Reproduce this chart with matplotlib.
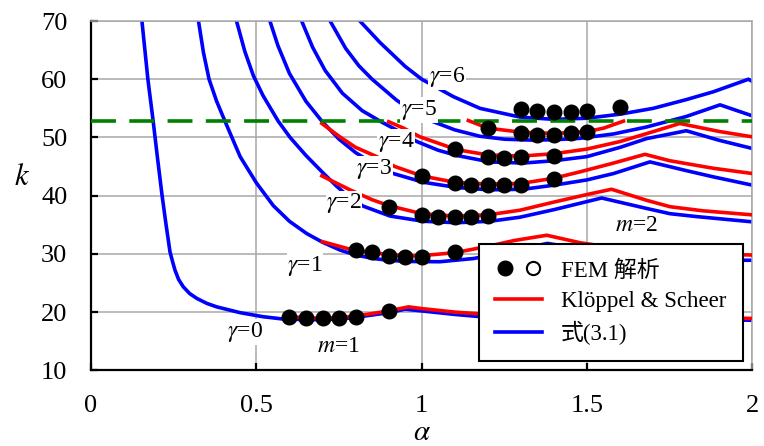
import matplotlib
matplotlib.use('Agg')
import matplotlib.pyplot as plt
from matplotlib.lines import Line2D
from matplotlib.legend_handler import HandlerTuple

plt.rcParams['font.family'] = ['Liberation Serif', 'Noto Sans CJK JP']
plt.rcParams['mathtext.fontset'] = 'stix'

# --- eq.(3.1) curves (blue) ---
a_g0 = [0.154, 0.172, 0.188, 0.201, 0.215, 0.227, 0.239, 0.247, 0.254, 0.265, 0.279, 0.298, 0.320, 0.350, 0.380, 0.451, 0.521, 0.582, 0.65, 0.70, 0.75, 0.80, 0.85, 0.90, 0.95, 1.0, 1.1, 1.2, 1.4, 1.65, 1.8, 2.0]
k_g0 = [70, 60, 52.8, 46.5, 40.0, 35.0, 30.3, 28.6, 27.2, 25.6, 24.35, 23.2, 22.35, 21.5, 20.9, 19.9, 19.2, 18.8, 18.7, 18.7, 18.8, 19.1, 19.5, 19.9, 20.5, 20.2, 19.6, 19.1, 18.7, 19.2, 18.8, 18.6]
a_g1 = [0.325, 0.34, 0.357, 0.38, 0.405, 0.451, 0.50, 0.551, 0.60, 0.652, 0.70, 0.753, 0.80, 0.854, 0.90, 0.955, 1.055, 1.156, 1.25, 1.38, 1.5, 1.6, 1.7, 1.8, 2.0]
k_g1 = [70, 64.6, 60, 56.2, 52.8, 46.7, 42.2, 38.3, 35.6, 33.5, 32.0, 30.65, 29.8, 29.2, 28.9, 28.7, 28.65, 29.2, 30.2, 31.8, 30.7, 29.9, 29.3, 28.95, 28.9]
a_g2 = [0.44, 0.465, 0.491, 0.52, 0.566, 0.602, 0.65, 0.70, 0.743, 0.78, 0.823, 0.904, 1.005, 1.106, 1.206, 1.297, 1.4, 1.544, 1.68, 1.751, 1.832, 2.0]
k_g2 = [70, 64.8, 60.6, 57.2, 52.8, 50.0, 46.9, 44.0, 41.6, 39.8, 38.2, 36.5, 35.6, 35.35, 35.6, 36.3, 37.6, 39.6, 37.8, 36.9, 36.4, 35.5]
a_g3 = [0.541, 0.565, 0.60, 0.65, 0.698, 0.75, 0.80, 0.86, 0.914, 1.005, 1.106, 1.206, 1.307, 1.4, 1.499, 1.58, 1.69, 1.8, 1.88, 2.0]
k_g3 = [70, 65.8, 61.0, 56.2, 52.8, 49.7, 47.4, 45.3, 43.8, 42.3, 41.4, 41.0, 41.1, 41.8, 42.7, 43.8, 45.8, 44.3, 43.25, 41.8]
a_g4 = [0.637, 0.67, 0.708, 0.76, 0.82, 0.88, 0.94, 0.985, 1.05, 1.106, 1.206, 1.307, 1.4, 1.499, 1.6, 1.68, 1.80, 1.9, 2.0]
k_g4 = [70, 65.5, 61.5, 57.6, 54.6, 52.6, 50.8, 49.3, 47.8, 46.9, 45.8, 45.6, 46.0, 46.7, 48.3, 49.8, 51.15, 49.5, 48.1]
a_g5 = [0.723, 0.77, 0.81, 0.85, 0.924, 0.99, 1.035, 1.1, 1.176, 1.25, 1.327, 1.4, 1.479, 1.58, 1.68, 1.80, 1.902, 2.0]
k_g5 = [70, 65.3, 62.3, 60, 56.4, 53.85, 52.7, 51.3, 50.2, 49.7, 49.55, 49.6, 49.85, 50.6, 51.8, 53.6, 55.6, 53.7]
a_g6 = [0.813, 0.874, 0.95, 1.0, 1.096, 1.176, 1.297, 1.4, 1.499, 1.6, 1.70, 1.80, 1.882, 1.988, 2.0]
k_g6 = [70, 66.3, 62.2, 60, 57.0, 55.0, 53.5, 53.1, 53.3, 54.0, 55.0, 56.5, 57.85, 60.0, 59.6]

# --- Kloppel & Scheer (red) ---
a_ks0 = [0.6, 0.7, 0.8, 0.9, 0.96, 1.0, 1.1, 1.2, 1.65, 2.0]
k_ks0 = [19.2, 18.9, 19.3, 20.2, 20.9, 20.6, 20.0, 19.6, 19.5, 18.9]
a_ks1 = [0.7, 0.783, 0.85, 0.9, 0.95, 1.0, 1.1, 1.2, 1.28, 1.378, 1.48, 1.6, 1.8, 2.0]
k_ks1 = [32.1, 30.8, 30.2, 29.9, 29.7, 29.7, 30.2, 31.3, 32.3, 33.2, 31.9, 30.9, 30.1, 29.8]
a_ks2 = [0.698, 0.783, 0.85, 0.9, 1.0, 1.1, 1.2, 1.297, 1.4, 1.5, 1.574, 1.68, 1.751, 1.85, 2.0]
k_ks2 = [43.4, 41.0, 39.3, 38.3, 36.9, 36.5, 36.7, 37.5, 38.9, 40.2, 41.1, 39.2, 38.1, 37.4, 36.7]
a_ks3 = [0.698, 0.75, 0.80, 0.864, 0.919, 1.0, 1.1, 1.2, 1.3, 1.4, 1.479, 1.58, 1.675, 1.75, 1.882, 2.0]
k_ks3 = [52.4, 50.2, 48.3, 46.7, 45.0, 43.4, 42.3, 42.0, 42.1, 43.0, 44.1, 45.6, 47.1, 46.0, 44.7, 43.8]
a_ks4 = [0.9, 0.945, 0.995, 1.106, 1.2, 1.3, 1.4, 1.499, 1.6, 1.7, 1.78, 1.902, 2.0]
k_ks4 = [52.7, 51.6, 50.1, 47.9, 47.0, 46.8, 47.2, 48.0, 49.3, 51.0, 52.4, 51.0, 50.1]
a_ks5 = [1.141, 1.2, 1.3, 1.4, 1.5, 1.55, 1.61]
k_ks5 = [52.9, 51.6, 50.9, 50.7, 51.0, 51.6, 52.8]

# --- FEM results ---
fem_a0 = [0.6, 0.65, 0.7, 0.75, 0.8, 0.9]
fem_k0 = [19.2, 18.9, 18.9, 19.0, 19.2, 20.2]
fem_a1 = [0.8, 0.85, 0.9, 0.95, 1.0, 1.1]
fem_k1 = [30.65, 30.26, 29.67, 29.5, 29.5, 30.26]
fem_a2 = [0.9, 1.0, 1.05, 1.1, 1.15, 1.2]
fem_k2 = [38.1, 36.7, 36.4, 36.4, 36.4, 36.5]
fem_a3 = [1.0, 1.1, 1.15, 1.2, 1.25, 1.3, 1.4]
fem_k3 = [43.3, 42.2, 41.9, 41.9, 41.9, 41.9, 42.8]
fem_a4 = [1.1, 1.2, 1.25, 1.3, 1.4]
fem_k4 = [47.95, 46.6, 46.4, 46.6, 46.8]
fem_a5 = [1.2, 1.3, 1.35, 1.4, 1.45, 1.5]
fem_k5 = [51.56, 50.7, 50.5, 50.5, 50.7, 50.9]
fem_a6 = [1.3, 1.35, 1.4, 1.45, 1.5, 1.6]
fem_k6 = [54.8, 54.6, 54.4, 54.4, 54.6, 55.3]

k_limit = 52.8

# curve labels: text, alpha, k
curve_labels = [
    (r'$\gamma$=0', 0.466, 16.6), (r'$\gamma$=1', 0.647, 27.9), (r'$\gamma$=2', 0.765, 38.7),
    (r'$\gamma$=3', 0.856, 44.6), (r'$\gamma$=4', 0.922, 49.3), (r'$\gamma$=5', 0.992, 54.7),
    (r'$\gamma$=6', 1.077, 60.4), (r'$m$=1', 0.747, 14.1), (r'$m$=2', 1.648, 34.9),
]

blue = [(a_g0, k_g0), (a_g1, k_g1), (a_g2, k_g2), (a_g3, k_g3), (a_g4, k_g4), (a_g5, k_g5), (a_g6, k_g6)]
red = [(a_ks0, k_ks0), (a_ks1, k_ks1), (a_ks2, k_ks2), (a_ks3, k_ks3), (a_ks4, k_ks4), (a_ks5, k_ks5)]
fem = [(fem_a0, fem_k0), (fem_a1, fem_k1), (fem_a2, fem_k2), (fem_a3, fem_k3),
       (fem_a4, fem_k4), (fem_a5, fem_k5), (fem_a6, fem_k6)]

fig = plt.figure(figsize=(7.64, 4.46), dpi=100)
ax = fig.add_axes([0.1191, 0.1697, 0.8658, 0.7832])

lw = 2.6
for a, k in blue:
    ax.plot(a, k, color='#0000ff', lw=lw, zorder=2, solid_joinstyle='round')
for a, k in red:
    ax.plot(a, k, color='#ff0000', lw=lw, zorder=3, solid_joinstyle='round')
ax.axhline(k_limit, color='#008000', lw=2.6, ls=(0, (6.9, 3.7)), zorder=3.5)
for a, k in fem:
    ax.plot(a, k, 'o', color='black', ms=10.5, ls='none', zorder=5)

for txt, x, y in curve_labels:
    ax.text(x, y, txt, fontsize=17, ha='center', va='center', zorder=6,
            bbox=dict(facecolor='white', edgecolor='none', pad=0.5))

ax.set_xlim(0, 2)
ax.set_ylim(10, 70)
ax.set_xticks([0, 0.5, 1, 1.5, 2])
ax.set_xticklabels(['0', '0.5', '1', '1.5', '2'])
ax.set_yticks([10, 20, 30, 40, 50, 60, 70])
ax.grid(True, color='#a8a8a8', lw=1.1, zorder=0)
ax.set_axisbelow(True)
for s in ['top', 'right']:
    ax.spines[s].set_color('#a8a8a8')
    ax.spines[s].set_linewidth(1.1)
for s in ['left', 'bottom']:
    ax.spines[s].set_color('black')
    ax.spines[s].set_linewidth(1.6)
ax.tick_params(axis='both', direction='in', length=5, width=1.6, labelsize=19)
ax.tick_params(axis='x', pad=18)
ax.tick_params(axis='y', pad=17)

ax.set_ylabel('$k$', rotation=0, fontsize=22)
ax.yaxis.set_label_coords(-0.104, 0.51)
ax.set_xlabel(r'$\alpha$', fontsize=21)
ax.xaxis.set_label_coords(0.5, -0.142)

h_fill = Line2D([], [], marker='o', color='black', ms=10.5, ls='none')
h_open = Line2D([], [], marker='o', markerfacecolor='white', markeredgecolor='black',
                markeredgewidth=1.5, ms=9.5, ls='none')
h_red = Line2D([], [], color='#ff0000', lw=lw)
h_blue = Line2D([], [], color='#0000ff', lw=lw)
leg = ax.legend([(h_fill, h_open), h_red, h_blue], ['FEM 解析', 'Klöppel & Scheer', '式(3.1)'],
                handler_map={tuple: HandlerTuple(ndivide=None, pad=0.4)},
                loc='lower right', bbox_to_anchor=(0.985, 0.0266), borderaxespad=0,
                prop={'family': ['Liberation Serif', 'Noto Sans CJK JP'], 'size': 16.5},
                handlelength=2.05, handletextpad=0.83, borderpad=0.7, labelspacing=0.4,
                fancybox=False, framealpha=1, edgecolor='black')
leg.get_frame().set_linewidth(1.5)
leg.set_zorder(10)

fig.savefig('out.png', dpi=100)
